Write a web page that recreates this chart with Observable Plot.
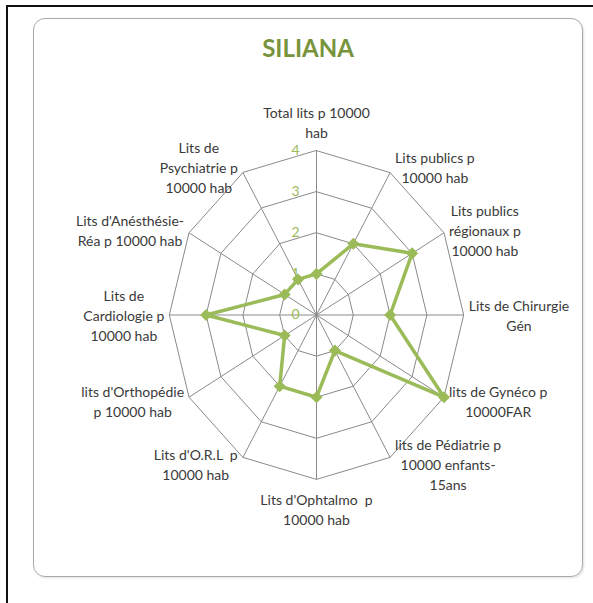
<!DOCTYPE html>
<html>
<head>
<meta charset="utf-8">
<script src="https://cdn.jsdelivr.net/npm/d3@7"></script>
<script src="https://cdn.jsdelivr.net/npm/@observablehq/plot@0.6"></script>
<style>
  html, body { margin: 0; padding: 0; background: #fff; }
  body { width: 593px; height: 603px; overflow: hidden; position: relative; font-family: Lato, "Open Sans", sans-serif; }
  #outer { position: absolute; left: 6px; top: 5px; width: 700px; height: 700px; border-left: 2px solid #111; border-top: 2px solid #111; }
  #card { position: absolute; left: 33px; top: 18px; width: 548px; height: 557px; border: 1.5px solid #a9a9a9; border-radius: 12px; box-shadow: 1px 1px 2px rgba(0,0,0,0.12); }
  #content { position: absolute; left: 0; top: 0; width: 593px; }
  #title { height: 62px; box-sizing: border-box; padding-top: 35px; width: 616px; text-align: center; font-size: 24px; line-height: 26px; font-weight: bold; color: #77933c; }
</style>
</head>
<body>
<div id="outer"></div>
<div id="card"></div>
<div id="content">
  <div id="title">SILIANA</div>
  <div id="chart"></div>
</div>
<script>
// ---- data ----
const categories = [
  "Total lits p 10000\nhab",
  "Lits publics p\n10000 hab",
  "Lits publics\nrégionaux p\n10000 hab",
  "Lits de Chirurgie\nGén",
  "lits de Gynéco p\n10000FAR",
  "lits de Pédiatrie p\n10000 enfants-\n15ans",
  "Lits d'Ophtalmo  p\n10000 hab",
  "Lits d'O.R.L  p\n10000 hab",
  "lits d'Orthopédie\np 10000 hab",
  "Lits de\nCardiologie p\n10000 hab",
  "Lits d'Anésthésie-\nRéa p 10000 hab",
  "Lits de\nPsychiatrie p\n10000 hab"
];
const values = [1, 2, 3, 2, 4, 1, 2, 2, 1, 3, 1, 1];
const ticks = [0, 1, 2, 3, 4];

// ---- layout ----
const W = 593, H = 541;
const cx = 316, cy = 252.5;      // centre in svg pixels
const ux = 36.8, uy = 41.1;      // pixels per unit
const fs = 14, lineH = 20;
const green = "#9bbb59", grid = "#8a8a8a", textCol = "#3a3a3a";

const n = categories.length;
const ang = i => i * 2 * Math.PI / n;
const rMax = d3.max(ticks);

const ctx = document.createElement("canvas").getContext("2d");
ctx.font = `${fs}px Lato`;

const labelData = categories.map((c, i) => {
  const a = ang(i), s = Math.sin(a), co = Math.cos(a);
  const lines = c.split("\n");
  const w = d3.max(lines, l => ctx.measureText(l).width);
  const vx = rMax * s * ux, vy = -rMax * co * uy;
  let px, py;
  if (Math.abs(s) < 0.1) {
    px = vx;
    py = vy - co * (9 + lines.length * lineH / 2);
  } else {
    px = vx + Math.sign(s) * (5 + w / 2);
    py = vy - co * 7;
  }
  return {text: c, x: px / ux, y: -py / uy};
});

const series = values.map((v, i) => ({v, x: v * Math.sin(ang(i)), y: v * Math.cos(ang(i))}));
const rings = ticks.filter(t => t > 0).flatMap(t =>
  categories.map((c, i) => ({ring: t, x: t * Math.sin(ang(i)), y: t * Math.cos(ang(i))})));
const spokes = categories.map((c, i) => ({x: rMax * Math.sin(ang(i)), y: rMax * Math.cos(ang(i))}));

const chart = Plot.plot({
  width: W, height: H,
  marginTop: 0, marginRight: 0, marginBottom: 0, marginLeft: 0,
  x: {domain: [-cx / ux, (W - cx) / ux], axis: null},
  y: {domain: [-(H - cy) / uy, cy / uy], axis: null},
  style: {fontFamily: "Lato, 'Open Sans', sans-serif", background: "transparent"},
  marks: [
    Plot.line(rings, {x: "x", y: "y", z: "ring", curve: "linear-closed", stroke: grid, strokeWidth: 1}),
    Plot.link(spokes, {x1: () => 0, y1: () => 0, x2: "x", y2: "y", stroke: grid, strokeWidth: 1}),
    Plot.text(ticks, {x: () => 0, y: d => d, text: d => String(d), dx: -21, fill: green, fontSize: 14}),
    Plot.line(series, {x: "x", y: "y", curve: "linear-closed", stroke: green, strokeWidth: 3.5, strokeLinejoin: "round"}),
    Plot.dot(series, {x: "x", y: "y", symbol: "diamond2", r: 4.5, fill: green, stroke: green}),
    Plot.text(labelData, {x: "x", y: "y", text: "text", textAnchor: "middle", lineAnchor: "middle", lineHeight: lineH / fs, fontSize: fs, fill: textCol})
  ]
});
document.getElementById("chart").appendChild(chart);
</script>
</body>
</html>
